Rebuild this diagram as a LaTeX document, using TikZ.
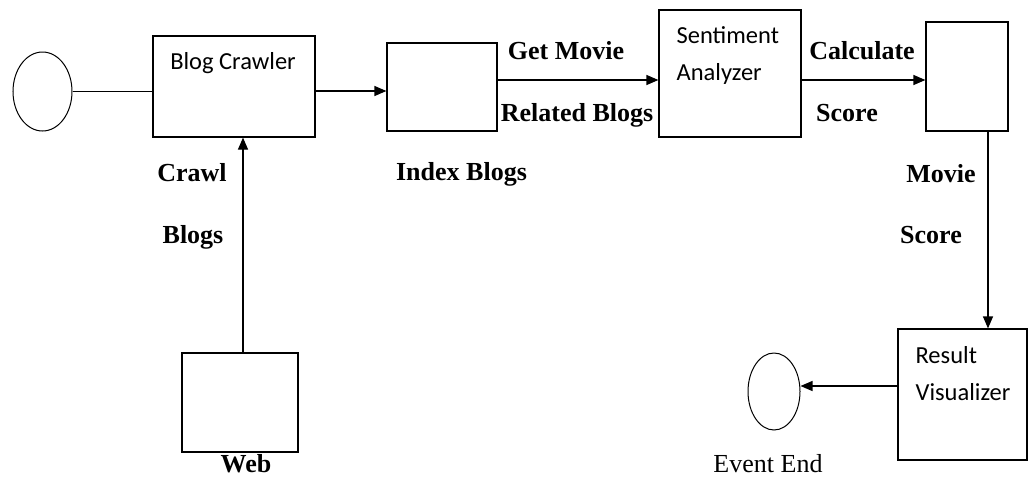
\documentclass[tikz,border=0pt]{standalone}
\usepackage{fontspec}
\setmainfont{Liberation Serif}
\newfontfamily\calibfont{Carlito}
\usetikzlibrary{arrows.meta,shapes.geometric}
\begin{document}
\begin{tikzpicture}[x=1pt,y=-1pt,line width=1.2pt,
  box/.style={draw,rectangle,inner sep=0pt},
  oval/.style={draw,ellipse,inner sep=0pt,line width=1pt},
  lbl/.style={font=\fontsize{26}{30}\selectfont\bfseries,anchor=base,inner sep=0pt},
  plain/.style={font=\fontsize{26}{30}\selectfont,anchor=base,inner sep=0pt},
  sans/.style={font=\calibfont\fontsize{24.5}{28}\selectfont,anchor=base west,inner sep=0pt},
  arr/.style={-{Triangle[length=12pt,width=10pt]}}]
\useasboundingbox (0,0) rectangle (1028,477);
% shapes
\node[oval,minimum width=59pt,minimum height=79pt] (start) at (42.5,91.5) {};
\node[box,minimum width=162pt,minimum height=101pt] (crawler) at (234,86.5) {};
\node[box,minimum width=110pt,minimum height=88pt] (index) at (442,87) {};
\node[box,minimum width=142pt,minimum height=127pt] (sentiment) at (730,73.5) {};
\node[box,minimum width=82pt,minimum height=109pt] (scorebox) at (967,76.5) {};
\node[box,minimum width=129pt,minimum height=131pt] (result) at (962.5,394.5) {};
\node[oval,minimum width=52pt,minimum height=77pt] (end) at (774,391.5) {};
\node[box,minimum width=116pt,minimum height=99pt] (web) at (240,402.5) {};
% texts
\node[font=\calibfont\fontsize{24.5}{28}\selectfont,anchor=base,inner sep=0pt] (tcrawler) at (233,69) {Blog Crawler};
\node[sans] (tsent1) at (676,43) {Sentiment};
\node[sans] (tsent2) at (676,80) {Analyzer};
\node[sans] (tres1) at (915,363) {Result};
\node[sans] (tres2) at (915,400) {Visualizer};
\node[lbl] (crawl) at (192,181) {Crawl};
\node[lbl] (blogs) at (193,243) {Blogs};
\node[lbl] (getmovie) at (566,59) {Get Movie};
\node[lbl] (related) at (577,121) {Related Blogs};
\node[lbl] (indexblogs) at (461.5,180) {Index Blogs};
\node[lbl] (calculate) at (862,59) {Calculate};
\node[lbl] (score1) at (847,121) {Score};
\node[lbl] (movie) at (941,182) {Movie};
\node[lbl] (score2) at (931,243) {Score};
\node[lbl] (webt) at (246,472) {Web};
\node[plain] (eventend) at (768,472) {Event End};
% connectors
\draw (start.east) -- (start.east -| crawler.west);
\draw[arr] ([yshift=-4.5pt]crawler.east) -- ([yshift=-4.5pt]crawler.east -| index.west);
\draw[arr] ([yshift=7pt]index.east) -- ([yshift=7pt]index.east -| sentiment.west);
\draw[arr] ([yshift=-6.5pt]sentiment.east) -- ([yshift=-6.5pt]sentiment.east -| scorebox.west);
\draw[arr] ([xshift=21pt]scorebox.south) -- ([xshift=21pt]scorebox.south |- result.north);
\draw[arr] ([yshift=8.5pt]result.west) -- ([yshift=8.5pt]result.west -| end.east);
\draw[arr] ([xshift=3pt]web.north) -- ([xshift=3pt]web.north |- crawler.south);
\end{tikzpicture}
\end{document}
